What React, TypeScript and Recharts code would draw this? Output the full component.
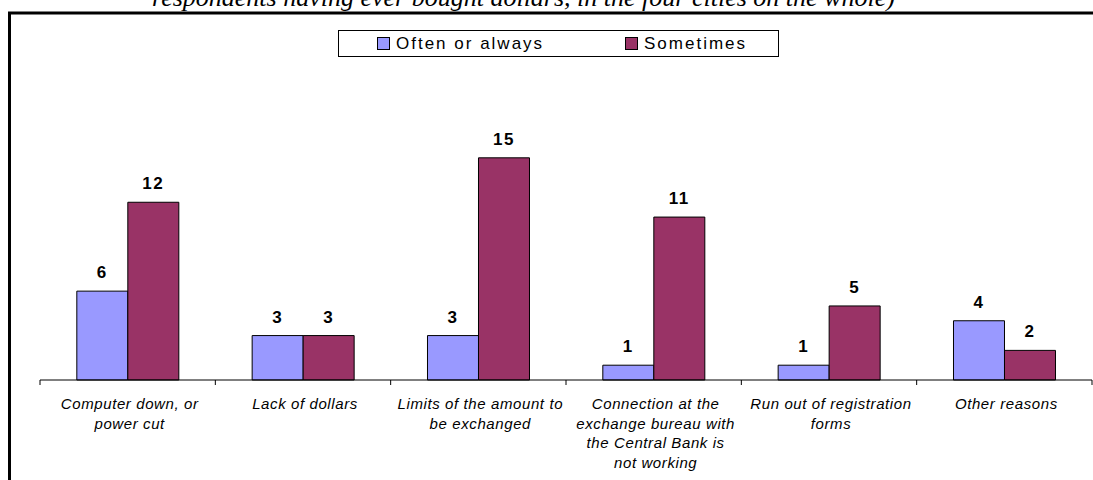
import React from 'react';
import { BarChart, Bar, XAxis, YAxis, LabelList } from 'recharts';

const categories = [
  'Computer down, or\npower cut',
  'Lack of dollars',
  'Limits of the amount to\nbe exchanged',
  'Connection at the\nexchange bureau with\nthe Central Bank is\nnot working',
  'Run out of registration\nforms',
  'Other reasons',
];
const oftenOrAlways = [6, 3, 3, 1, 1, 4];
const sometimes = [12, 3, 15, 11, 5, 2];
const seriesNames = ['Often or always', 'Sometimes'];
const seriesColors = ['#9999FF', '#993366'];
const title = 'respondents having ever bought dollars, in the four cities on the whole)';

const data = categories.map((name, i) => ({
  name,
  often: oftenOrAlways[i],
  sometimes: sometimes[i],
}));

const W = 1093;
const H = 480;
const margin = { top: 143, right: 1, left: 40, bottom: 0 };
const band = (W - margin.left - margin.right) / categories.length;
const sans = '"Liberation Sans", Arial, sans-serif';

const CategoryTick = (props: any) => {
  const { x, y, payload, index } = props;
  const lines: string[] = String(payload.value).split('\n');
  const left = x - band / 2;
  return (
    <g>
      <line x1={left} y1={y} x2={left} y2={y + 5} stroke="#000" />
      {index === categories.length - 1 && (
        <line x1={left + band} y1={y} x2={left + band} y2={y + 5} stroke="#000" />
      )}
      <text
        x={x + 2}
        y={y + 29}
        textAnchor="middle"
        fill="#000"
        style={{ fontFamily: sans, fontSize: 15, fontStyle: 'italic', letterSpacing: 0.6 }}
      >
        {lines.map((l, i) => (
          <tspan key={`l-${i}`} x={x + 2} dy={i === 0 ? 0 : 19.7}>
            {l}
          </tspan>
        ))}
      </text>
    </g>
  );
};

const labelStyle = { fontFamily: sans, fontSize: 17, fontWeight: 'bold' as const, fill: '#000', letterSpacing: 1.5 };

export default function App() {
  return (
    <div style={{ position: 'absolute', left: 0, top: 0, width: W, height: H, overflow: 'hidden', background: '#fff' }}>
      <svg width={W} height={H} style={{ position: 'absolute', left: 0, top: 0 }}>
        <text
          x={152}
          y={6}
          style={{ fontFamily: '"Liberation Serif", "Times New Roman", serif', fontSize: 26, fontStyle: 'italic' }}
          fill="#000"
        >
          {title}
        </text>
        <rect x={9.5} y={13} width={W + 20} height={H + 20} fill="none" stroke="#000" strokeWidth={3} />
      </svg>

      <div
        style={{
          position: 'absolute',
          left: 338,
          top: 30,
          width: 441,
          height: 27,
          boxSizing: 'border-box',
          border: '1px solid #000',
          background: '#fff',
          fontFamily: sans,
          fontSize: 17,
          letterSpacing: 2,
          lineHeight: '25px',
          color: '#000',
        }}
      >
        {seriesNames.map((n, i) => (
          <span
            key={n}
            style={{ position: 'absolute', left: i === 0 ? 38 : 286, top: 0, whiteSpace: 'nowrap' }}
          >
            <span
              style={{
                display: 'inline-block',
                width: 11,
                height: 11,
                border: '1px solid #000',
                background: seriesColors[i],
                marginRight: 6,
                verticalAlign: '-1px',
              }}
            />
            {n}
          </span>
        ))}
      </div>

      <div style={{ position: 'absolute', left: 0, top: 0 }}>
        <BarChart width={W} height={H} data={data} margin={margin} barCategoryGap="21%" barGap={0}>
          <XAxis
            dataKey="name"
            interval={0}
            height={100}
            tickLine={false}
            tickSize={0}
            tickMargin={0}
            axisLine={{ stroke: '#000' }}
            tick={<CategoryTick />}
          />
          <YAxis hide domain={[0, 16]} />
          <Bar dataKey="often" name={seriesNames[0]} fill={seriesColors[0]} stroke="#000" strokeWidth={1} isAnimationActive={false}>
            <LabelList dataKey="often" position="top" offset={13} style={labelStyle} />
          </Bar>
          <Bar dataKey="sometimes" name={seriesNames[1]} fill={seriesColors[1]} stroke="#000" strokeWidth={1} isAnimationActive={false}>
            <LabelList dataKey="sometimes" position="top" offset={13} style={labelStyle} />
          </Bar>
        </BarChart>
      </div>
    </div>
  );
}
